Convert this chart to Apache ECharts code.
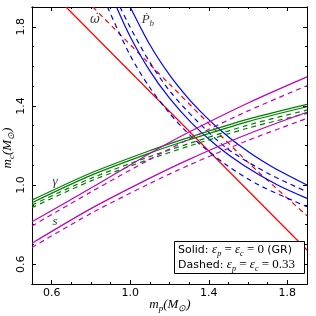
<!DOCTYPE html>
<html><head><meta charset="utf-8">
<script src="https://cdn.jsdelivr.net/npm/echarts@6/dist/echarts.min.js"></script>
<style>html,body{margin:0;padding:0;background:#fff}#c{width:316px;height:316px}</style>
</head><body><div id="c"></div>
<script>
// axis ranges and ticks
const xRange = [0.5, 1.9];
const yRange = [0.5, 1.9];
const majorTicks = [0.6, 1.0, 1.4, 1.8];
const minorTicks = [0.6,0.7,0.8,0.9,1.0,1.1,1.2,1.3,1.4,1.5,1.6,1.7,1.8];

// omega-dot (total mass) constraint
const omegaGR = [[0.673,1.9],[1.9,0.672]];
const omegaDash = [[0.81,1.9],[1.2,1.51],[1.6,1.115],[1.9,0.845]];

// Pb-dot constraints
const pbGRHi = [[1.0,1.9],[1.1,1.709],[1.2,1.557],[1.3,1.433],[1.365,1.365],[1.433,1.3],[1.557,1.2],[1.709,1.1],[1.9,1.0]];
const pbGRLo = [[0.93,1.9],[1.0,1.75],[1.1,1.577],[1.2,1.439],[1.313,1.313],[1.439,1.2],[1.577,1.1],[1.75,1.0],[1.9,0.933]];
const pbDashHi = [[0.948,1.9],[1.0,1.797],[1.1,1.62],[1.2,1.477],[1.332,1.332],[1.5,1.18],[1.7,1.06],[1.9,0.966]];
const pbDashLo = [[0.884,1.9],[1.0,1.655],[1.1,1.492],[1.2,1.363],[1.278,1.278],[1.363,1.2],[1.492,1.1],[1.655,1.0],[1.9,0.891]];

// gamma constraints
const gamGRHi = [[0.5,0.924],[0.8,1.061],[1.1,1.174],[1.3,1.241],[1.6,1.333],[1.9,1.408]];
const gamGRLo = [[0.5,0.911],[0.8,1.049],[1.1,1.162],[1.3,1.229],[1.6,1.321],[1.9,1.396]];
const gamDashHi = [[0.5,0.899],[0.8,1.034],[1.1,1.144],[1.3,1.21],[1.6,1.303],[1.9,1.379]];
const gamDashLo = [[0.5,0.886],[0.8,1.021],[1.1,1.131],[1.3,1.197],[1.6,1.288],[1.9,1.362]];

// shape (s) constraints
const sGRHi = [[0.5,0.815],[0.8,0.985],[1.1,1.16],[1.3,1.268],[1.6,1.415],[1.9,1.547]];
const sGRLo = [[0.5,0.706],[0.8,0.881],[1.1,1.035],[1.3,1.13],[1.6,1.258],[1.9,1.368]];
const sDashHi = [[0.5,0.793],[0.8,0.965],[1.1,1.13],[1.3,1.233],[1.6,1.375],[1.9,1.502]];
const sDashLo = [[0.5,0.685],[0.8,0.857],[1.1,1.008],[1.3,1.101],[1.6,1.226],[1.9,1.337]];

// curve labels
const curveLabels = [
  {pos:[0.82,1.835], text:'{d|ω̇}'},
  {pos:[1.09,1.835], text:'{m|Ṗ}{s|b}'},
  {pos:[0.617,1.02], text:'{m|γ}'},
  {pos:[0.617,0.813], text:'{m|s}'}
];

const RED='#ff0000', BLUE='#0000ff', GREEN='#008000', MAG='#bf00bf';
const DASH=[5,4];
function line(data,color,dashed){
  return {type:'line',data:data,showSymbol:false,smooth:0.3,clip:true,silent:true,
    lineStyle:{color:color,width:1.2,type:dashed?DASH:'solid'}};
}
const mathRich = {
  m:{fontFamily:'Liberation Serif',fontStyle:'italic',fontSize:13,color:'#000',lineHeight:16,verticalAlign:'middle'},
  d:{fontFamily:'DejaVu Serif',fontStyle:'italic',fontSize:12,color:'#000',lineHeight:16,verticalAlign:'middle'},
  s:{fontFamily:'Liberation Serif',fontStyle:'italic',fontSize:9,color:'#000',lineHeight:9,verticalAlign:'bottom'}
};
const axisFont = {fontFamily:'DejaVu Sans',fontSize:11,color:'#000'};
function xax(pos,ticks,len,labels){
  return {type:'value',position:pos,min:xRange[0],max:xRange[1],
    axisLine:{show:true,lineStyle:{color:'#000',width:1}},
    axisTick:{show:true,inside:true,length:len,customValues:ticks,lineStyle:{color:'#000'}},
    axisLabel:labels?Object.assign({show:true,margin:4,customValues:majorTicks,formatter:v=>v.toFixed(1)},axisFont):{show:false},
    splitLine:{show:false}};
}
function yax(pos,ticks,len,labels){
  return {type:'value',position:pos,min:yRange[0],max:yRange[1],
    axisLine:{show:true,lineStyle:{color:'#000',width:1}},
    axisTick:{show:true,inside:true,length:len,customValues:ticks,lineStyle:{color:'#000'}},
    axisLabel:labels?Object.assign({show:true,margin:5,rotate:90,customValues:majorTicks,formatter:v=>v.toFixed(1)},axisFont):{show:false},
    splitLine:{show:false}};
}
const chart = echarts.init(document.getElementById('c'),null,{renderer:'canvas'});
const series = [
  line(omegaGR,RED,false), line(omegaDash,RED,true),
  line(pbGRHi,BLUE,false), line(pbGRLo,BLUE,false), line(pbDashHi,BLUE,true), line(pbDashLo,BLUE,true),
  line(gamGRHi,GREEN,false), line(gamGRLo,GREEN,false), line(gamDashHi,GREEN,true), line(gamDashLo,GREEN,true),
  line(sGRHi,MAG,false), line(sGRLo,MAG,false), line(sDashHi,MAG,true), line(sDashLo,MAG,true),
  {type:'scatter',symbolSize:0,silent:true,
   data:curveLabels.map(d=>({value:d.pos,label:{show:true,position:'inside',formatter:d.text,rich:mathRich}}))}
];
const legRich = {
  t:{fontFamily:'DejaVu Sans',fontSize:11,color:'#000',lineHeight:15,verticalAlign:'middle'},
  e:{fontFamily:'Liberation Serif',fontStyle:'italic',fontSize:13,color:'#000',lineHeight:15,verticalAlign:'middle'},
  s:{fontFamily:'Liberation Serif',fontStyle:'italic',fontSize:8,color:'#000',lineHeight:8,verticalAlign:'bottom'},
  o:{fontFamily:'Liberation Serif',fontSize:13,color:'#000',lineHeight:15,verticalAlign:'middle'}
};
chart.setOption({
  animation:false,
  grid:{left:32,top:7,right:9,bottom:32,containLabel:false},
  xAxis:[xax('bottom',majorTicks,4,true),xax('bottom',minorTicks,2,false),xax('top',majorTicks,4,false),xax('top',minorTicks,2,false)],
  yAxis:[yax('left',majorTicks,4,true),yax('left',minorTicks,2,false),yax('right',majorTicks,4,false),yax('right',minorTicks,2,false)],
  series:series,
  graphic:[
    {type:'text',x:170,y:305,style:{text:'{m|m}{s|p}{m|(M}{s|⊙}{m|)}',rich:mathRich,align:'center',verticalAlign:'middle'}},
    {type:'text',x:8,y:148,rotation:Math.PI/2,style:{text:'{m|m}{s|c}{m|(M}{s|⊙}{m|)}',rich:mathRich,align:'center',verticalAlign:'middle'}},
    {type:'rect',shape:{x:174.5,y:241.5,width:130,height:32},style:{fill:'#fff',stroke:'#000',lineWidth:1},z:100},
    {type:'text',x:178,y:250,z:101,style:{text:'{t|Solid: }{e|ε}{s|p}{o| = }{e|ε}{s|c}{o| = 0 }{t|(GR)}',rich:legRich,verticalAlign:'middle'}},
    {type:'text',x:178,y:265,z:101,style:{text:'{t|Dashed: }{e|ε}{s|p}{o| = }{e|ε}{s|c}{o| = 0.33}',rich:legRich,verticalAlign:'middle'}}
  ]
});
</script></body></html>
